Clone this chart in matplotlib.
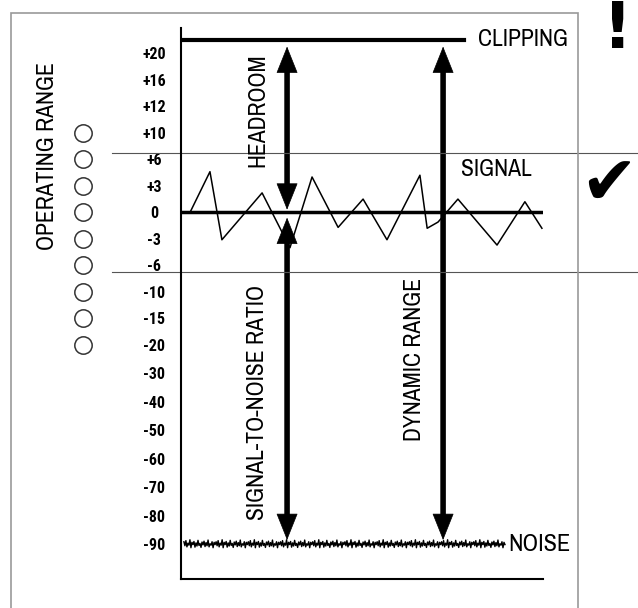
import numpy as np
import matplotlib
matplotlib.use('Agg')
import matplotlib.pyplot as plt
from matplotlib import transforms
from matplotlib.patches import FancyArrowPatch, Rectangle

# meter scale in dB and the printed labels
levels = [20, 16, 12, 10, 6, 3, 0, -3, -6, -10, -15, -20, -30, -40, -50, -60, -70, -80, -90]
level_labels = ['+20', '+16', '+12', '+10', '+6', '+3', '0', '-3', '-6', '-10',
                '-15', '-20', '-30', '-40', '-50', '-60', '-70', '-80', '-90']

# LEDs of the meter column
led_levels = [10, 6, 3, 0, -3, -6, -10, -15, -20]

clip_db = 22
noise_db = -90
operating_range = [7, -7]

# signal waveform (time, dB)
signal_t = [2.5, 8.0, 11.3, 22.4, 30.1, 36.2, 43.4, 50.3, 56.9, 66.0, 68.0, 71.0, 76.5, 87.3, 95.0, 99.7]
signal_db = [0.0, 4.6, -3.1, 2.2, -4.0, 4.0, -1.7, 1.5, -3.1, 4.2, -1.8, -1.1, 1.5, -3.7, 1.2, -1.8]

# wiggle of the noise floor (dB around noise_db), repeated along the trace
noise_wiggle = [0.8, -0.6, 1.2, -1.0, 0.3, -0.4, 1.5, -1.3, 0.6, -0.2, 0.9, -1.1, 0.4, -0.7, 1.3, -0.5,
                0.2, -1.2, 0.7, -0.3, 1.0, -0.9, 0.5, -0.6, 1.4, -1.0, 0.1, -0.4, 0.8, -1.3, 0.6, -0.2]
noise_t0, noise_t1 = 0.8, 89.5

# arrows: time, top dB, bottom dB
arrows = [(29.3, 21.0, 0.3), (29.3, -0.6, -88.6), (72.4, 21.0, -88.6)]

FONT = ['Archivo Narrow', 'Liberation Sans', 'DejaVu Sans']
TICK_FONT = ['Roboto Condensed', 'Liberation Sans', 'DejaVu Sans']

# scale rows: upper part evenly spaced, lower part a bit wider
rows = np.r_[np.arange(12), 11 + 1.072 * np.arange(1, 8)]
scale_db = np.r_[28, 24, levels, -100, -110]
scale_row = np.r_[-2, -1, rows, rows[-1] + 1.072, rows[-1] + 2.144]


def fwd(db):
    return -np.interp(db, scale_db[::-1], scale_row[::-1])


def inv(v):
    return np.interp(-np.asarray(v), scale_row, scale_db)


W, H = 638, 608
fig = plt.figure(figsize=(W / 100, H / 100), dpi=100)
ax = fig.add_axes([181 / W, 1 - 579 / H, 362 / W, 551 / H])
ax.set_yscale('function', functions=(fwd, inv))
ax.set_xlim(0, 100)
ax.set_ylim(-102.3, 23.8)
ax.set_yticks(levels, level_labels)
ax.set_xticks([])
ax.tick_params(axis='y', length=0, pad=19.4)
for lbl in ax.get_yticklabels():
    lbl.set_ha('center')
    lbl.set_fontweight('bold')
    lbl.set_fontsize(11.5)
    lbl.set_family(TICK_FONT)
for s in ['top', 'right']:
    ax.spines[s].set_visible(False)
for s in ['left', 'bottom']:
    ax.spines[s].set_linewidth(1.5)

# outer frame
fig.add_artist(Rectangle((11 / W, -0.05), (578 - 11) / W, (H - 13) / H + 0.05,
                         transform=fig.transFigure, fill=False, ec='#999999', lw=1.2))

blend = transforms.blended_transform_factory(fig.transFigure, ax.transData)
for lv in operating_range:
    ax.plot([112 / W, 1.0], [lv, lv], transform=blend, color='#555555', lw=0.8, clip_on=False)

ax.plot(np.full(len(led_levels), 83 / W), led_levels, 'o', mfc='white', mec='#333333',
        ms=12.5, mew=1.1, transform=blend, clip_on=False)

# clipping and zero lines
ax.plot([0, 78.2], [clip_db, clip_db], color='black', lw=3)
ax.plot([0, 100], [0, 0], color='black', lw=2.5)

ax.plot(signal_t, signal_db, color='black', lw=1.1)

noise = noise_db + np.tile(noise_wiggle, 10)
ax.plot(np.linspace(noise_t0, noise_t1, len(noise)), noise, color='black', lw=1.0)

for t, top, bot in arrows:
    shaft = FancyArrowPatch((t, top), (t, bot), arrowstyle='-', lw=4, color='black',
                            shrinkA=14, shrinkB=14, capstyle='butt')
    heads = FancyArrowPatch((t, top), (t, bot), arrowstyle='<|-|>,head_length=1.8,head_width=0.72',
                            mutation_scale=10, lw=0.5, color='black', shrinkA=0, shrinkB=0)
    ax.add_patch(heads)
    ax.add_patch(shaft)

ax.text(82.0, clip_db, 'CLIPPING', ha='left', va='center', fontsize=17, family=FONT)
ax.text(77.3, 4.8, 'SIGNAL', ha='left', va='center', fontsize=17, family=FONT)
ax.text(90.3, noise_db, 'NOISE', ha='left', va='center', fontsize=17.5, family=FONT)
ax.text(21.3, 11.7, 'HEADROOM', rotation=90, ha='center', va='center', fontsize=17, family=FONT)
ax.text(21.0, -40.4, 'SIGNAL-TO-NOISE RATIO', rotation=90, ha='center', va='center', fontsize=17, family=FONT)
ax.text(64.6, -25, 'DYNAMIC RANGE', rotation=90, ha='center', va='center', fontsize=17, family=FONT)
fig.text(48 / W, 1 - 156 / H, 'OPERATING RANGE', rotation=90, ha='center', va='center',
         fontsize=17, family=FONT)

fig.text(618 / W, 1 - 48 / H, '!', ha='center', va='baseline', fontsize=46, fontweight='bold',
         family=['DejaVu Sans'])
fig.text(609 / W, 1 - 186 / H, '\u2714', ha='center', va='center', fontsize=49, family=['DejaVu Sans'])

fig.savefig('out.png', dpi=100)
